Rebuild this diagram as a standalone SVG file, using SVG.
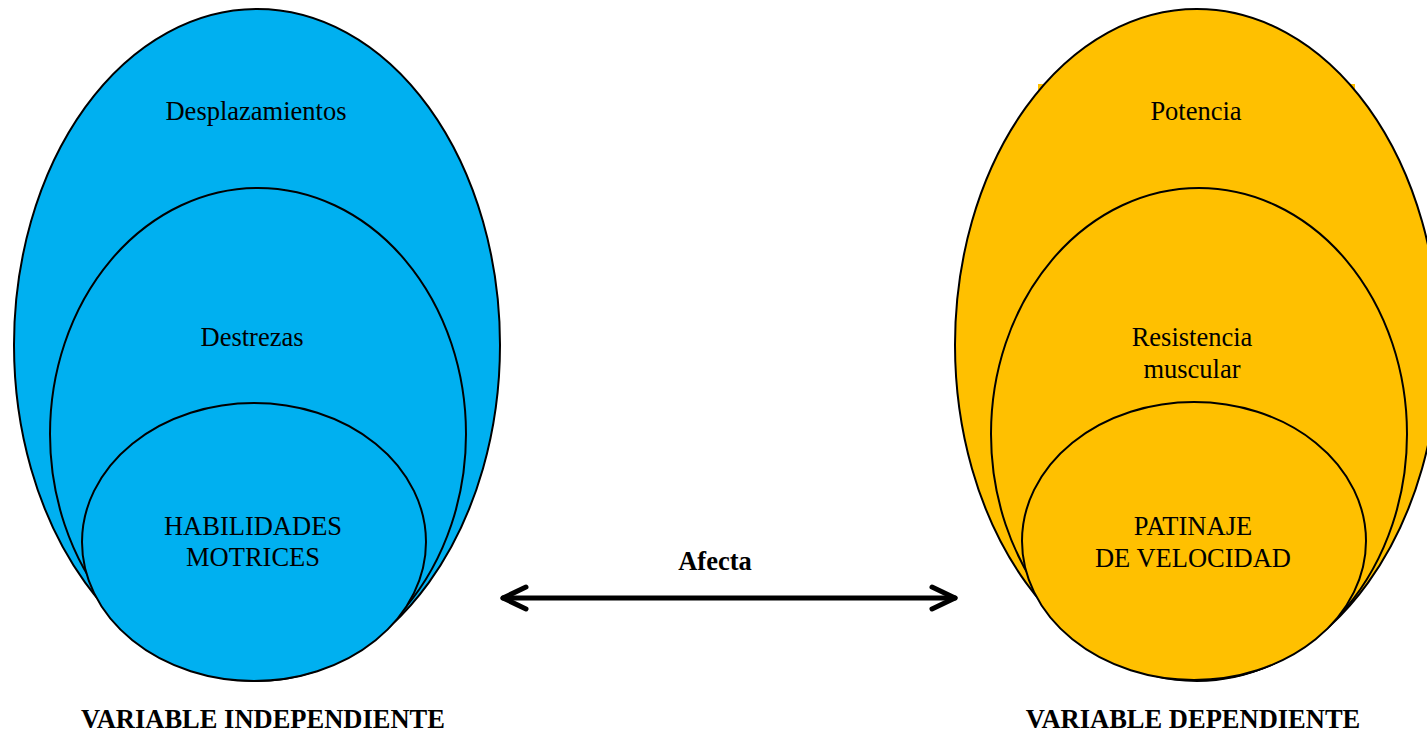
<svg xmlns="http://www.w3.org/2000/svg" width="1427" height="733" viewBox="0 0 1427 733">
<style>
.blue{fill:#00B0F0;stroke:#000;stroke-width:2}
.yellow{fill:#FFC000;stroke:#000;stroke-width:2}
.t{font-family:"Liberation Serif","Times New Roman",serif;font-size:26.5px;fill:#000;text-anchor:middle}
.b{font-family:"Liberation Serif","Times New Roman",serif;font-size:26.5px;font-weight:bold;fill:#000;text-anchor:middle}
.arrow{fill:none;stroke:#000;stroke-width:5;stroke-linecap:round;stroke-linejoin:round}
</style>
<defs>
<marker id="head" markerUnits="userSpaceOnUse" viewBox="-30 -15 36 30" refX="0" refY="0" markerWidth="36" markerHeight="30" orient="auto-start-reverse">
<path d="M-23,-11 L0,0 L-23,11" fill="none" stroke="#000" stroke-width="5" stroke-linecap="round" stroke-linejoin="round"/>
</marker>
</defs>
<rect width="1427" height="733" fill="#fff"/>
<g id="independiente">
<ellipse class="blue" cx="257" cy="345" rx="243" ry="336"/>
<ellipse class="blue" cx="258" cy="434" rx="208" ry="246"/>
<ellipse class="blue" cx="254" cy="542" rx="172" ry="139"/>
<text class="t" x="256" y="120">Desplazamientos</text>
<text class="t" x="252" y="346">Destrezas</text>
<text class="t" x="253" y="535">HABILIDADES</text>
<text class="t" x="253" y="566">MOTRICES</text>
<text class="b" x="263" y="728">VARIABLE INDEPENDIENTE</text>
</g>
<g id="dependiente">
<rect x="1038" y="84" width="317" height="30" fill="#FFC000"/>
<ellipse class="yellow" cx="1197" cy="345" rx="242" ry="336"/>
<ellipse class="yellow" cx="1199" cy="434" rx="208" ry="246"/>
<ellipse class="yellow" cx="1194" cy="541" rx="172" ry="139"/>
<text class="t" x="1196" y="120">Potencia</text>
<text class="t" x="1192" y="346">Resistencia</text>
<text class="t" x="1192" y="378">muscular</text>
<text class="t" x="1193" y="535">PATINAJE</text>
<text class="t" x="1193" y="567">DE VELOCIDAD</text>
<text class="b" x="1193" y="728">VARIABLE DEPENDIENTE</text>
</g>
<g id="connectors">
<line class="arrow" x1="503" y1="598" x2="955" y2="598" marker-start="url(#head)" marker-end="url(#head)"/>
<text class="b" x="715" y="570">Afecta</text>
</g>
</svg>
